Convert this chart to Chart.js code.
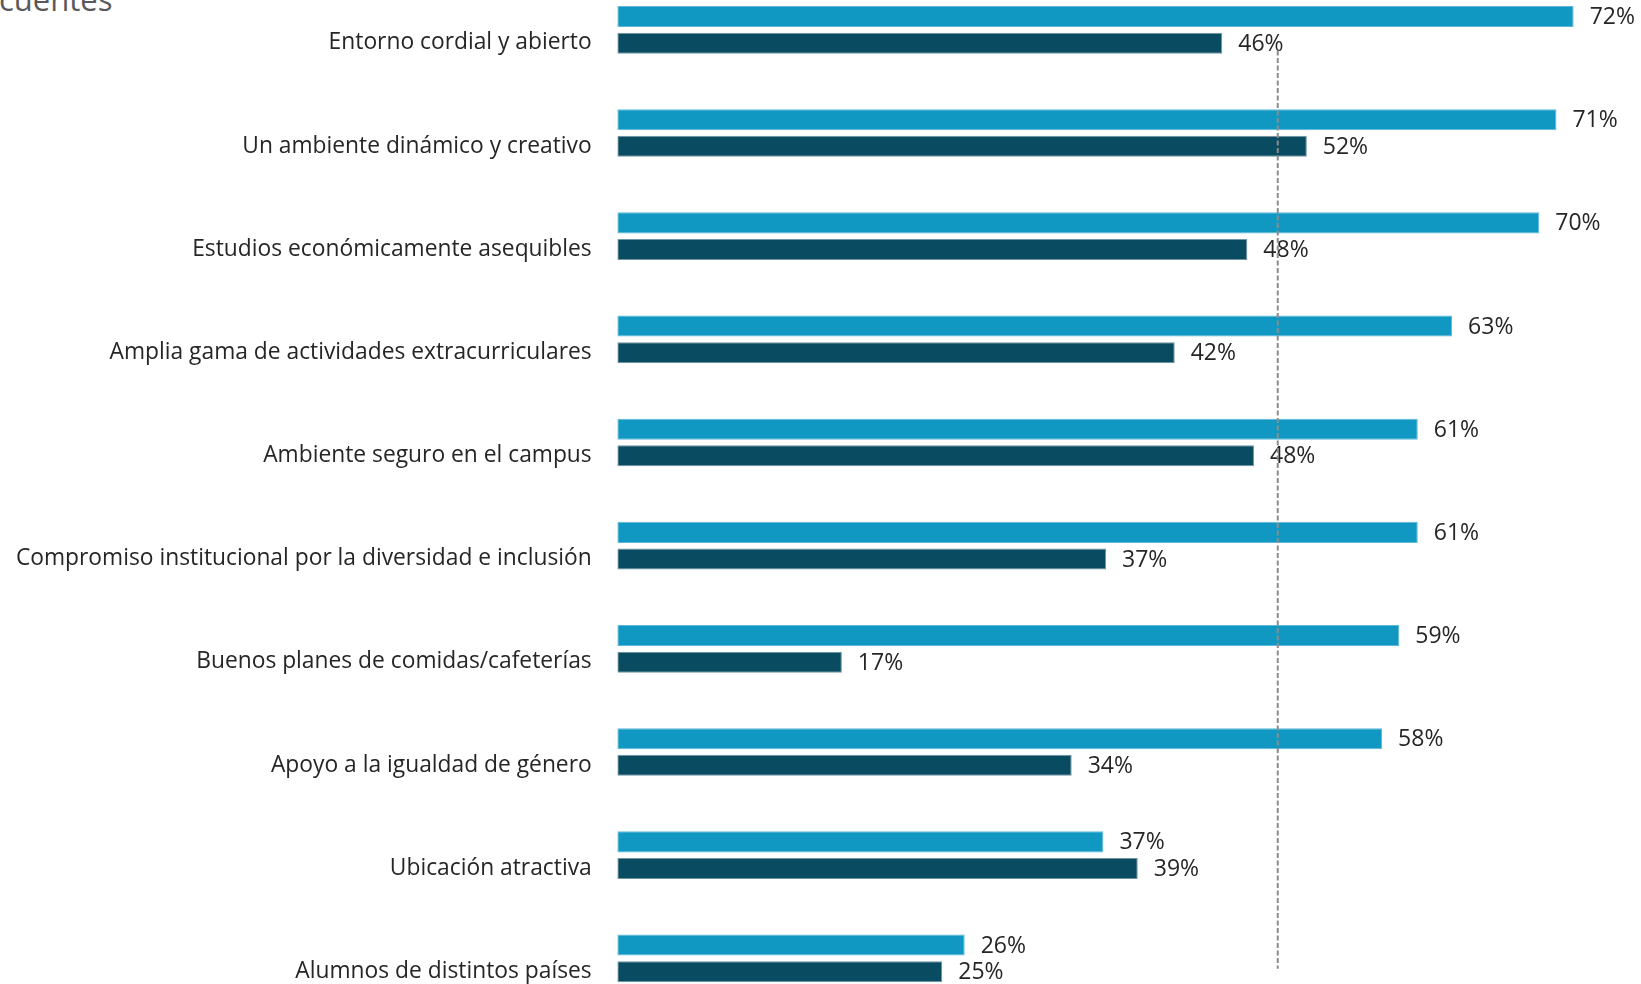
<!DOCTYPE html>
<html lang="es">
<head>
<meta charset="utf-8">
<title>Factores del campus</title>
<script src="https://cdn.jsdelivr.net/npm/chart.js@4.4.1/dist/chart.umd.min.js"></script>
<style>
  html, body { margin: 0; padding: 0; background: #fff; overflow: hidden; }
  body { width: 1641px; height: 984px; position: relative; }
  .title-cut {
    position: absolute; left: -1px; top: -16.5px;
    font-family: "Open Sans", sans-serif; font-size: 31px; line-height: 31px;
    color: #595959; white-space: nowrap;
  }
  /* the y axis adds ~39px of padding above/below the plot, so the canvas is
     pushed up and stretched to put the plot where the reference crop has it */
  .chart-wrap { position: absolute; left: 0; top: -61.2px; width: 1641px; height: 1110.2px; }
</style>
</head>
<body>
<div class="title-cut">cuentes</div>
<div class="chart-wrap"><canvas id="campus-chart"></canvas></div>

<script>
// ── Data ──────────────────────────────────────────────────────
const CATEGORIES = [
    'Entorno cordial y abierto',
    'Un ambiente dinámico y creativo',
    'Estudios económicamente asequibles',
    'Amplia gama de actividades extracurriculares',
    'Ambiente seguro en el campus',
    'Compromiso institucional por la diversidad e inclusión',
    'Buenos planes de comidas/cafeterías',
    'Apoyo a la igualdad de género',
    'Ubicación atractiva',
    'Alumnos de distintos países',
];
const SERIES_NAMES = ['Grupo 1', 'Grupo 2'];
const SERIES_LIGHT = [72.4, 71.1, 69.8, 63.2, 60.6, 60.6, 59.2, 57.9, 36.8, 26.3];
const SERIES_DARK  = [45.8, 52.2, 47.7, 42.2, 48.2, 37.0, 17.0, 34.4, 39.4, 24.6];
const REFERENCE_LINE = 50;   // dashed marker, %
const X_MAX = 77.5;

const FONT_FAMILY = '"Open Sans", sans-serif';
const TEXT_COLOR  = '#262626';

// ── Plugins ───────────────────────────────────────────────────
const valueLabels = {
    id: 'valueLabels',
    afterDatasetsDraw(chart) {
        const ctx = chart.ctx;
        ctx.save();
        ctx.font = `23px ${FONT_FAMILY}`;
        ctx.fillStyle = TEXT_COLOR;
        ctx.textAlign = 'left';
        ctx.textBaseline = 'middle';
        chart.data.datasets.forEach((ds, di) => {
            chart.getDatasetMeta(di).data.forEach((bar, i) => {
                ctx.fillText(Math.round(ds.data[i]) + '%', bar.x + 16, bar.y + 1);
            });
        });
        ctx.restore();
    },
};

const refLine = {
    id: 'refLine',
    afterDatasetsDraw(chart) {
        const x = chart.scales.x, y = chart.scales.y;
        const step = y.getPixelForValue(1) - y.getPixelForValue(0);
        const px = x.getPixelForValue(REFERENCE_LINE);
        const top = y.getPixelForValue(0) + step * 0.2;
        const bottom = y.getPixelForValue(CATEGORIES.length - 1) + step * 0.1;
        const ctx = chart.ctx;
        ctx.save();
        ctx.strokeStyle = '#8c8c8c';
        ctx.lineWidth = 2;
        ctx.setLineDash([5, 2.5]);
        ctx.beginPath();
        ctx.moveTo(px, top);
        ctx.lineTo(px, bottom);
        ctx.stroke();
        ctx.restore();
    },
};

// ── Chart ─────────────────────────────────────────────────────
new Chart(document.getElementById('campus-chart'), {
    type: 'bar',
    data: {
        labels: CATEGORIES,
        datasets: [
            { label: SERIES_NAMES[0], data: SERIES_LIGHT, backgroundColor: '#1098c3', borderColor: '#5db8da', borderWidth: 1, borderSkipped: false },
            { label: SERIES_NAMES[1], data: SERIES_DARK,  backgroundColor: '#094b61', borderColor: '#6f94a2', borderWidth: 1, borderSkipped: false },
        ],
    },
    options: {
        indexAxis: 'y',
        responsive: true, maintainAspectRatio: false, animation: false,
        categoryPercentage: 0.516,
        barPercentage: 0.79,
        layout: { padding: 0 },
        plugins: {
            legend: { display: false },
            tooltip: { enabled: false },
            title: { display: false },
        },
        scales: {
            x: {
                min: 0, max: X_MAX, display: false,
                grid: { display: false },
            },
            y: {
                grid: { display: false, drawTicks: false },
                border: { display: false },
                ticks: {
                    color: TEXT_COLOR,
                    padding: 25.6,
                    labelOffset: 13,
                    font: { family: FONT_FAMILY, size: 22.8 },
                },
                afterFit(scale) { scale.width = 617.3; },
            },
        },
    },
    plugins: [valueLabels, refLine],
});
</script>
</body>
</html>
